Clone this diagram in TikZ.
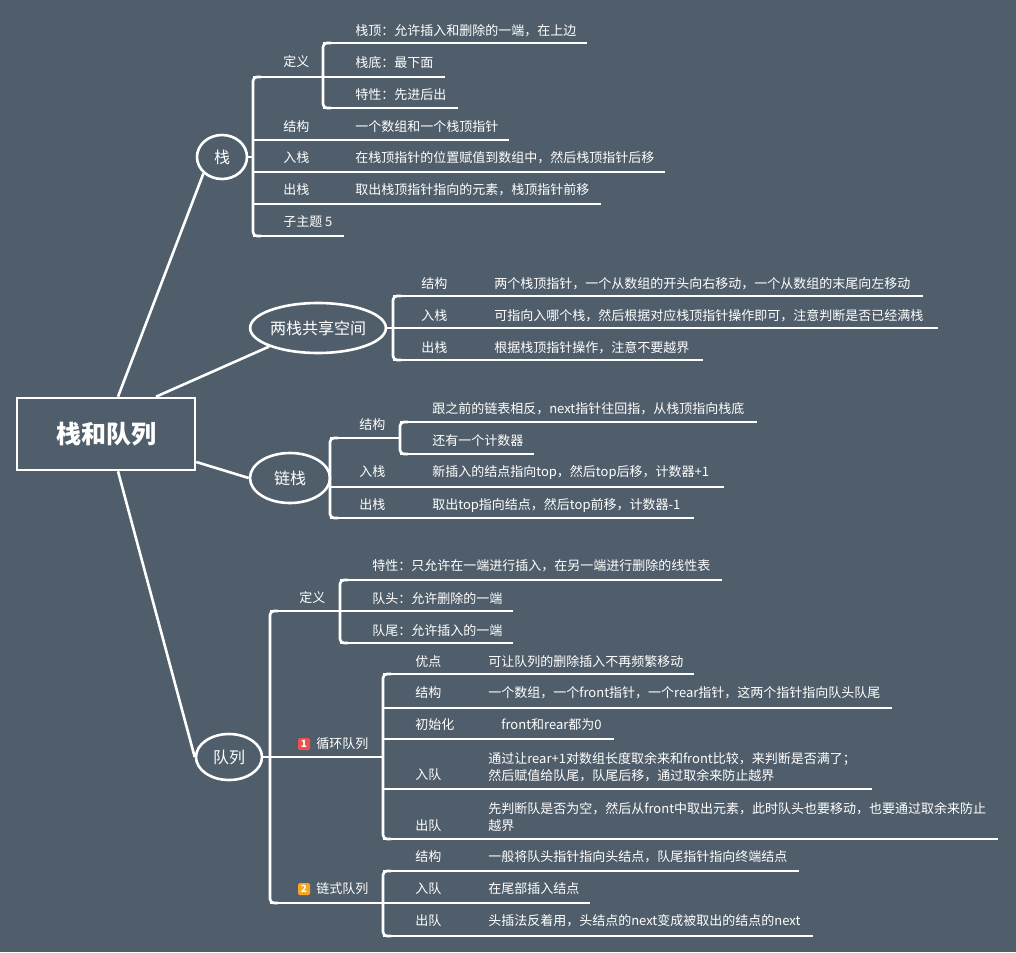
\documentclass[tikz,border=0pt]{standalone}
\usepackage{fontspec}
\setmainfont{Noto Sans CJK SC}
\definecolor{bg}{HTML}{505E6B}
\definecolor{bred}{HTML}{E8534F}
\definecolor{borange}{HTML}{F5A623}
\begin{document}
\begin{tikzpicture}[x=1pt,y=-1pt,line width=2.6pt,white,
  t/.style={anchor=west,inner sep=0pt,font=\fontsize{13}{17}\selectfont,text=white},
  ln/.style={draw=white,line width=2.6pt},
  br/.style={draw=white,line width=2.6pt,rounded corners=4pt},
  bub/.style={ellipse,draw=white,line width=2.6pt,inner sep=0pt,font=\fontsize{16}{18}\selectfont,text=white},
  badge/.style={rounded corners=1.5pt,minimum size=12pt,inner sep=0pt,text=white,font=\fontsize{10}{10}\selectfont\bfseries}]
\usetikzlibrary{shapes.geometric}
\fill[bg] (0,0) rectangle (1016,952);
\useasboundingbox (0,0) rectangle (1016,952);
% root
\node[draw=white,line width=2.6pt,minimum width=178pt,minimum height=72pt,font=\fontsize{25}{28}\selectfont\bfseries,text=white] (root) at (106,434) {栈和队列};
\node[bub,minimum width=50pt,minimum height=44pt] (zhan) at (222,157) {栈};
\node[bub,minimum width=134pt,minimum height=50pt] (liang) at (318,328) {两栈共享空间};
\node[bub,minimum width=80pt,minimum height=50pt] (lian) at (290,478) {链栈};
\node[bub,minimum width=66pt,minimum height=46pt] (dui) at (229,757) {队列};
\draw (root.north) ++(12,0) coordinate(r1) -- (zhan.south west);
\draw (root.north) ++(50,0) -- (liang.south west);
\draw (root.east) ++(0,28) -- (lian.west);
\draw (root.south) ++(12,0) -- (dui.west);

% ===== 栈
\draw (zhan.east) -- (253,157);
\draw[br] (261,77) -- (253,77) -- (253,236) -- (261,236);
\draw (253,77) -- (323,77);
\draw[br] (331,43) -- (323,43) -- (323,108) -- (331,108);
\draw (323,43) -- (587,43); \draw (323,77) -- (445,77); \draw (323,108) -- (458,108);
\draw (253,140) -- (509,140); \draw (253,172) -- (665,172);
\draw (253,204) -- (601,204); \draw (253,236) -- (344,236);
\node[t] (a1) at (282,62) {定义};
\node[t] (a2) at (354,31) {栈顶：允许插入和删除的一端，在上边};
\node[t] (a3) at (354,63) {栈底：最下面};
\node[t] (a4) at (354,95) {特性：先进后出};
\node[t] (a5) at (282,127) {结构};
\node[t] (a6) at (354,127) {一个数组和一个栈顶指针};
\node[t] (a7) at (282,158) {入栈};
\node[t] (a8) at (354,158) {在栈顶指针的位置赋值到数组中，然后栈顶指针后移};
\node[t] (a9) at (282,190) {出栈};
\node[t] (a10) at (354,190) {取出栈顶指针指向的元素，栈顶指针前移};
\node[t] (a11) at (282,222) {子主题 5};

% ===== 两栈共享空间
\draw[br] (401,296) -- (393,296) -- (393,360) -- (401,360);
\draw (liang.east) -- (393,328);
\draw (393,296) -- (923,296); \draw (393,328) -- (938,328); \draw (393,360) -- (703,360);
\node[t] (b1) at (420,284) {结构};
\node[t] (b2) at (493,284) {两个栈顶指针，一个从数组的开头向右移动，一个从数组的末尾向左移动};
\node[t] (b3) at (420,316) {入栈};
\node[t] (b4) at (493,316) {可指向入哪个栈，然后根据对应栈顶指针操作即可，注意判断是否已经满栈};
\node[t] (b5) at (420,348) {出栈};
\node[t] (b6) at (493,348) {根据栈顶指针操作，注意不要越界};

% ===== 链栈
\draw (lian.east) -- (330,478);
\draw[br] (338,438) -- (330,438) -- (330,518) -- (338,518);
\draw (330,438) -- (400,438);
\draw[br] (408,422) -- (400,422) -- (400,454) -- (408,454);
\draw (400,422) -- (757,422); \draw (400,454) -- (534,454);
\draw (330,487) -- (724,487); \draw (330,518) -- (694,518);
\node[t] (c1) at (358,425) {结构};
\node[t] (c2) at (431,409) {跟之前的链表相反，next指针往回指，从栈顶指向栈底};
\node[t] (c3) at (431,441) {还有一个计数器};
\node[t] (c4) at (358,472) {入栈};
\node[t] (c5) at (431,472) {新插入的结点指向top，然后top后移，计数器+1};
\node[t] (c6) at (358,505) {出栈};
\node[t] (c7) at (431,505) {取出top指向结点，然后top前移，计数器-1};

% ===== 队列
\draw (dui.east) -- (270,757);
\draw[br] (278,611) -- (270,611) -- (270,903) -- (278,903);
\draw (270,611) -- (340,611);
\draw[br] (348,580) -- (340,580) -- (340,643) -- (348,643);
\draw (340,580) -- (722,580); \draw (340,611) -- (513,611); \draw (340,643) -- (513,643);
\node[t] (d1) at (298,598) {定义};
\node[t] (d2) at (371,566) {特性：只允许在一端进行插入，在另一端进行删除的线性表};
\node[t] (d3) at (371,599) {队头：允许删除的一端};
\node[t] (d4) at (371,631) {队尾：允许插入的一端};
% 循环队列
\draw (270,757) -- (383,757);
\draw[br] (391,674) -- (383,674) -- (383,839) -- (391,839);
\draw (383,674) -- (694,674); \draw (383,708) -- (892,708); \draw (383,739) -- (614,739);
\draw (383,789) -- (872,789); \draw (383,839) -- (998,839);
\node[badge,fill=bred] (e0) at (304,744) {1};
\node[t] (e1) at (315,744) {循环队列};
\node[t] (e2) at (414,662) {优点};
\node[t] (e3) at (487,662) {可让队列的删除插入不再频繁移动};
\node[t] (e4) at (414,693) {结构};
\node[t] (e5) at (487,693) {一个数组，一个front指针，一个rear指针，这两个指针指向队头队尾};
\node[t] (e6) at (414,725) {初始化};
\node[t] (e7) at (500,725) {front和rear都为0};
\node[t] (e8) at (414,775) {入队};
\node[t,align=left] (e9) at (487,767) {通过让rear+1对数组长度取余来和front比较，来判断是否满了；\\然后赋值给队尾，队尾后移，通过取余来防止越界};
\node[t] (e10) at (414,826) {出队};
\node[t,align=left] (e11) at (487,817) {先判断队是否为空，然后从front中取出元素，此时队头也要移动，也要通过取余来防止\\越界};
% 链式队列
\draw (270,903) -- (383,903);
\draw[br] (391,871) -- (383,871) -- (383,936) -- (391,936);
\draw (383,871) -- (799,871); \draw (383,903) -- (590,903); \draw (383,936) -- (813,936);
\node[badge,fill=borange] (f0) at (304,889) {2};
\node[t] (f1) at (315,889) {链式队列};
\node[t] (f2) at (414,857) {结构};
\node[t] (f3) at (487,857) {一般将队头指针指向头结点，队尾指针指向终端结点};
\node[t] (f4) at (414,889) {入队};
\node[t] (f5) at (487,889) {在尾部插入结点};
\node[t] (f6) at (414,921) {出队};
\node[t] (f7) at (487,921) {头插法反着用，头结点的next变成被取出的结点的next};
\end{tikzpicture}
\end{document}
